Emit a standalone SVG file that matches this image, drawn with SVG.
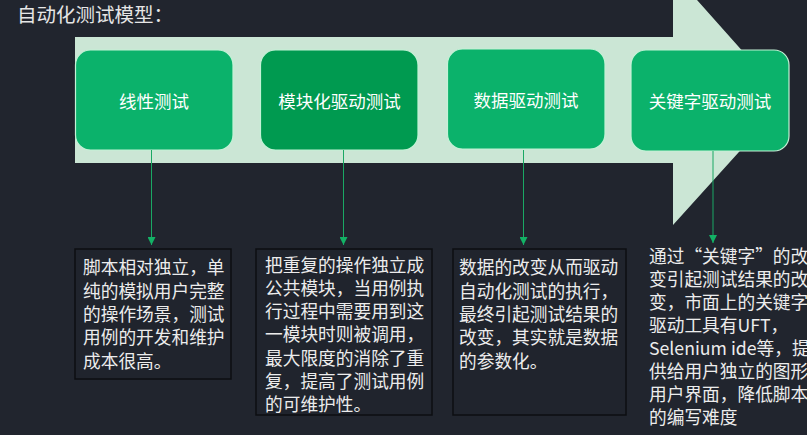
<svg xmlns="http://www.w3.org/2000/svg" width="807" height="435" viewBox="0 0 807 435">
<defs>
<style>
.cjk{font-family:"Noto Sans CJK SC","Noto Sans",sans-serif;}
.title{font-size:19.5px;fill:#e6e6e6;}
.node rect{fill:#0bb26b;stroke:#c3f2d6;stroke-width:1.2;}
.node.dark rect{fill:#009a50;}
.lbl{font-size:17.5px;fill:#ffffff;text-anchor:middle;dominant-baseline:central;}
.desc rect{fill:#20242d;stroke:#0c0e12;stroke-width:1.5;}
.desc text{font-size:17.7px;fill:#ececec;}
.conn line{stroke:#1aa864;stroke-width:1;}
</style>
<marker id="ah" viewBox="0 0 10 10" refX="10" refY="5" markerWidth="8" markerHeight="8" markerUnits="userSpaceOnUse" orient="auto">
<path d="M0,0 L10,5 L0,10 Z" fill="#13b266"/>
</marker>
</defs>
<rect width="807" height="435" fill="#21252e"/>
<text class="cjk title" x="17" y="22">自动化测试模型：</text>
<path id="bigarrow" d="M75,37 L673,37 L673,-27 L786,100 L673,225 L673,163 L75,163 Z" fill="#cbe6d5"/>
<g id="node1" class="node"><rect x="75.5" y="50" width="157.5" height="100" rx="15"/><text class="cjk lbl" x="154" y="100">线性测试</text></g>
<g id="node2" class="node dark"><rect x="260.5" y="50" width="157.5" height="100" rx="15"/><text class="cjk lbl" x="339.5" y="100">模块化驱动测试</text></g>
<g id="node3" class="node"><rect x="447.5" y="49" width="157.5" height="100" rx="15"/><text class="cjk lbl" x="526" y="99">数据驱动测试</text></g>
<g id="node4" class="node"><rect x="631" y="50" width="158" height="101" rx="15"/><text class="cjk lbl" x="710" y="100">关键字驱动测试</text></g>
<g id="connectors" class="conn">
<line x1="151.5" y1="150" x2="151.5" y2="245" marker-end="url(#ah)"/>
<line x1="343.5" y1="150" x2="343.5" y2="245" marker-end="url(#ah)"/>
<line x1="523.5" y1="150" x2="523.5" y2="245" marker-end="url(#ah)"/>
<line x1="713" y1="151" x2="713" y2="243" marker-end="url(#ah)"/>
</g>
<g id="desc1" class="desc cjk"><rect x="75" y="249" width="156" height="130"/>
<text x="83"><tspan x="83" y="274">脚本相对独立，单</tspan><tspan x="83" y="298">纯的模拟用户完整</tspan><tspan x="83" y="321">的操作场景，测试</tspan><tspan x="83" y="344">用例的开发和维护</tspan><tspan x="83" y="368">成本很高。</tspan></text></g>
<g id="desc2" class="desc cjk"><rect x="256" y="249" width="176" height="166"/>
<text x="265"><tspan x="265" y="272">把重复的操作独立成</tspan><tspan x="265" y="295">公共模块，当用例执</tspan><tspan x="265" y="318">行过程中需要用到这</tspan><tspan x="265" y="341">一模块时则被调用，</tspan><tspan x="265" y="365">最大限度的消除了重</tspan><tspan x="265" y="388">复，提高了测试用例</tspan><tspan x="265" y="411">的可维护性。</tspan></text></g>
<g id="desc3" class="desc cjk"><rect x="453" y="249" width="173" height="166"/>
<text x="459"><tspan x="459" y="274">数据的改变从而驱动</tspan><tspan x="459" y="298">自动化测试的执行，</tspan><tspan x="459" y="321">最终引起测试结果的</tspan><tspan x="459" y="344">改变，其实就是数据</tspan><tspan x="459" y="368">的参数化。</tspan></text></g>
<g id="desc4" class="desc cjk">
<text x="649"><tspan x="649" y="263">通过“关键字”的改</tspan><tspan x="649" y="286">变引起测试结果的改</tspan><tspan x="649" y="309">变，市面上的关键字</tspan><tspan x="649" y="332">驱动工具有UFT，</tspan><tspan x="649" y="355">Selenium ide等，提</tspan><tspan x="649" y="378">供给用户独立的图形</tspan><tspan x="649" y="401">用户界面，降低脚本</tspan><tspan x="649" y="424">的编写难度</tspan></text></g>
</svg>
